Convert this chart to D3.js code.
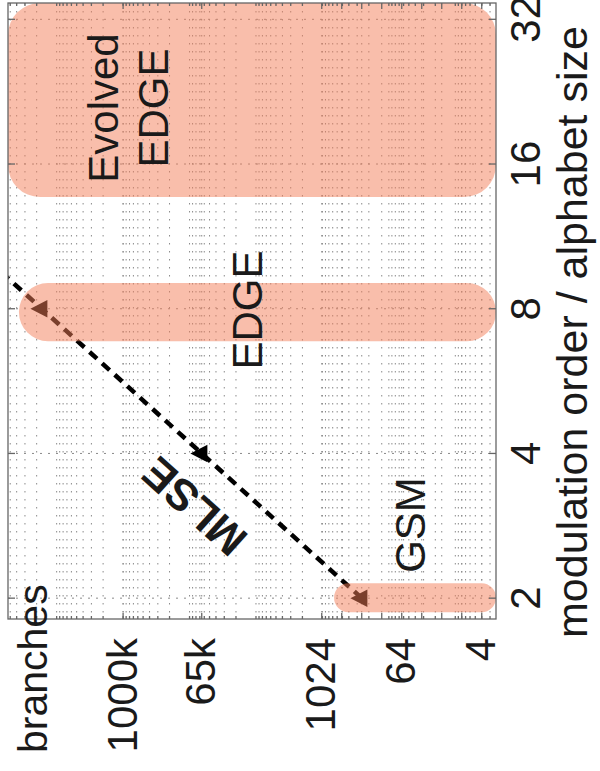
<!DOCTYPE html>
<html>
<head>
<meta charset="utf-8">
<script src="https://cdn.jsdelivr.net/npm/d3@7"></script>
<style>
  html, body { margin: 0; padding: 0; background: #fff; }
  svg { display: block; }
  text { font-family: "Liberation Sans", Arial, Helvetica, sans-serif; fill: #1a1a1a; }
</style>
</head>
<body>
<svg id="chart" width="600" height="771"></svg>
<script>
// Trellis complexity of MLSE equalisation vs. modulation order (GSM family)
const modOrder      = [2, 4, 8, 16];
const mlseBranches  = [256, 65536, 16777216, 4294967296];
const markerOrders  = [2, 4, 8];

const modTicks      = [2, 4, 8, 16, 32];
const modTickLabels = ["2", "4", "8", "16", "32"];
const branchTicks      = [4, 8, 16, 32, 64, 128, 256, 512, 1024, 65536, 1e6];
const branchTickLabels = ["4", "", "", "", "64", "", "", "", "1024", "65k", "1000k"];

// axis limits
const modLimits    = [1.81, 34.6];
const branchLimits = [5.4e7, 2.44];

// standards shown as shaded bands (modulation range x branch range)
const bandNames   = ["Evolved\nEDGE", "EDGE", "GSM"];
const bandModLow  = [13.66, 6.85, 1.87];
const bandModHigh = [34.6, 9.05, 2.147];
const bandBrLow   = [2.44, 2.44, 2.44];
const bandBrHigh  = [5.4e7, 3.7e7, 668];

const svg = d3.select("#chart");
const frame = { left: 8, right: 496, top: 3, bottom: 619 };

const x = d3.scaleLog().base(2).domain(branchLimits).range([frame.left, frame.right]);
const y = d3.scaleLog().base(2).domain(modLimits).range([frame.bottom, frame.top]);

svg.append("defs").append("clipPath").attr("id", "plotClip")
  .append("rect")
  .attr("x", frame.left).attr("y", frame.top)
  .attr("width", frame.right - frame.left).attr("height", frame.bottom - frame.top);

// decade minor positions of the logarithmic branch axis
const minorBranch = [];
for (let e = 0; e <= 8; e++) {
  for (let m = 1; m <= 9; m++) {
    const v = m * Math.pow(10, e);
    if (v > branchLimits[1] && v < branchLimits[0]) minorBranch.push(v);
  }
}

const grid = svg.append("g").attr("clip-path", "url(#plotClip)")
  .attr("stroke", "#8a8a8a").attr("stroke-width", 1).attr("stroke-dasharray", "1.5,6.5");

grid.selectAll("line.vminor").data(minorBranch).join("line")
  .attr("class", "vminor")
  .attr("x1", d => x(d)).attr("x2", d => x(d))
  .attr("y1", frame.top).attr("y2", frame.bottom);

grid.selectAll("line.vmajor").data(branchTicks).join("line")
  .attr("class", "vmajor")
  .attr("x1", d => x(d)).attr("x2", d => x(d))
  .attr("y1", frame.top).attr("y2", frame.bottom);

grid.selectAll("line.hmajor").data(modTicks).join("line")
  .attr("class", "hmajor")
  .attr("y1", d => y(d)).attr("y2", d => y(d))
  .attr("x1", frame.left).attr("x2", frame.right)
  .attr("stroke-dasharray", "2,6");

// MLSE curve
const plot = svg.append("g").attr("clip-path", "url(#plotClip)");
const pts = modOrder.map((m, i) => [x(mlseBranches[i]), y(m)]);
plot.append("path")
  .attr("d", d3.line()(pts))
  .attr("fill", "none")
  .attr("stroke", "#000")
  .attr("stroke-width", 4.5)
  .attr("stroke-dasharray", "10,7");

// left-pointing triangle markers, centred on their centroid
const triH = 17, triW = 17.5;
const tri = `M${-2 * triH / 3},0L${triH / 3},${-triW / 2}L${triH / 3},${triW / 2}Z`;
plot.selectAll("path.mk").data(markerOrders).join("path")
  .attr("class", "mk")
  .attr("d", tri)
  .attr("fill", "#000")
  .attr("transform", d => {
    const i = modOrder.indexOf(d);
    return `translate(${x(mlseBranches[i])},${y(d)})`;
  });

// shaded bands for the standards
const bands = svg.append("g").attr("clip-path", "url(#plotClip)");
bandNames.forEach((name, i) => {
  const x0 = x(bandBrHigh[i]), x1 = x(bandBrLow[i]);
  const y0 = y(bandModHigh[i]), y1 = y(bandModLow[i]);
  const h = y1 - y0;
  const r = Math.min(32, h / 2);
  bands.append("rect")
    .attr("x", x0).attr("y", y0)
    .attr("width", x1 - x0).attr("height", h)
    .attr("rx", r).attr("ry", r)
    .attr("fill", "#f37e58")
    .attr("fill-opacity", 0.5);
});

// frame and ticks
const axes = svg.append("g").attr("stroke", "#666").attr("stroke-width", 1.3);
axes.append("rect")
  .attr("x", frame.left).attr("y", frame.top)
  .attr("width", frame.right - frame.left).attr("height", frame.bottom - frame.top)
  .attr("fill", "none");

const majLen = 6, minLen = 3;
branchTicks.forEach(v => {
  axes.append("line").attr("x1", x(v)).attr("x2", x(v)).attr("y1", frame.bottom).attr("y2", frame.bottom - majLen);
  axes.append("line").attr("x1", x(v)).attr("x2", x(v)).attr("y1", frame.top).attr("y2", frame.top + majLen);
});
minorBranch.forEach(v => {
  axes.append("line").attr("x1", x(v)).attr("x2", x(v)).attr("y1", frame.bottom).attr("y2", frame.bottom - minLen);
  axes.append("line").attr("x1", x(v)).attr("x2", x(v)).attr("y1", frame.top).attr("y2", frame.top + minLen);
});
modTicks.forEach(v => {
  axes.append("line").attr("y1", y(v)).attr("y2", y(v)).attr("x1", frame.left).attr("x2", frame.left + 7);
  axes.append("line").attr("y1", y(v)).attr("y2", y(v)).attr("x1", frame.right).attr("x2", frame.right - 7);
});

const fs = 42;

// modulation order tick labels (right side, reading upwards)
svg.append("g").selectAll("text").data(modTicks).join("text")
  .attr("transform", d => `translate(540,${y(d)}) rotate(-90)`)
  .attr("text-anchor", "middle")
  .attr("font-size", fs)
  .text((d, i) => modTickLabels[i]);

svg.append("text")
  .attr("transform", "translate(587,332) rotate(-90)")
  .attr("text-anchor", "middle")
  .attr("font-size", 43)
  .text("modulation order / alphabet size");

// branch tick labels (bottom, reading upwards)
svg.append("g").selectAll("text").data(branchTicks.filter((d, i) => branchTickLabels[i] !== "")).join("text")
  .attr("transform", d => `translate(${x(d)},638) rotate(-90)`)
  .attr("text-anchor", "end")
  .attr("dy", "0.32em")
  .attr("font-size", fs)
  .text(d => branchTickLabels[branchTicks.indexOf(d)]);

svg.append("text")
  .attr("transform", "translate(47,753) rotate(-90)")
  .attr("text-anchor", "start")
  .attr("font-size", 41)
  .text("branches");

// band labels
const bandLabelPos = [[118, 108], [262, 310], [425, 525]];
bandNames.forEach((name, i) => {
  const lines = name.split("\n");
  lines.forEach((ln, k) => {
    svg.append("text")
      .attr("transform", `translate(${bandLabelPos[i][0] + k * 50},${bandLabelPos[i][1]}) rotate(-90)`)
      .attr("text-anchor", "middle")
      .attr("font-size", fs)
      .text(ln);
  });
});

// curve label
svg.append("text")
  .attr("transform", "translate(194,507) rotate(-138)")
  .attr("text-anchor", "middle")
  .attr("dy", "0.36em")
  .attr("font-size", 44)
  .attr("font-weight", "bold")
  .text("MLSE");
</script>
</body>
</html>
